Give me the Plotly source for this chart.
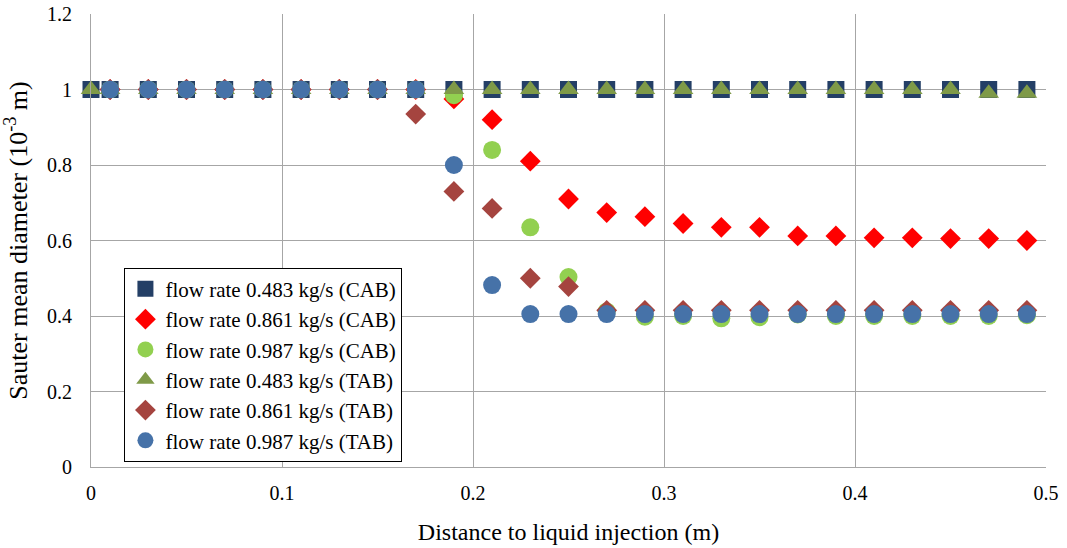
import plotly.graph_objects as go

x = [0, 0.01, 0.03, 0.05, 0.07, 0.09, 0.11, 0.13, 0.15, 0.17, 0.19, 0.21, 0.23,
     0.25, 0.27, 0.29, 0.31, 0.33, 0.35, 0.37, 0.39, 0.41, 0.43, 0.45, 0.47, 0.49]

cab_0483 = [1.0] * 26
cab_0861 = [None, 1.0, 1.0, 1.0, 1.0, 1.0, 1.0, 1.0, 1.0, 1.0, 0.975, 0.92, 0.81,
            0.71, 0.674, 0.663, 0.645, 0.635, 0.635, 0.612, 0.612, 0.607, 0.607, 0.605, 0.605, 0.6]
cab_0987 = [None, 1.0, 1.0, 1.0, 1.0, 1.0, 1.0, 1.0, 1.0, 1.0, 0.985, 0.84, 0.635,
            0.503, 0.412, 0.398, 0.4, 0.394, 0.397, 0.404, 0.4, 0.4, 0.4, 0.4, 0.4, 0.402]
tab_0483 = [1.0] * 24 + [0.99, 0.99]
tab_0861 = [None, 1.0, 1.0, 1.0, 1.0, 1.0, 1.0, 1.0, 1.0, 0.935, 0.73, 0.685, 0.5,
            0.478, 0.415, 0.415, 0.415, 0.415, 0.415, 0.415, 0.415, 0.415, 0.415, 0.415, 0.415, 0.415]
tab_0987 = [None, 1.0, 1.0, 1.0, 1.0, 1.0, 1.0, 1.0, 1.0, 1.0, 0.8, 0.482, 0.405,
            0.405, 0.405, 0.405, 0.405, 0.405, 0.405, 0.405, 0.405, 0.405, 0.405, 0.405, 0.405, 0.405]

x_ticks = [0, 0.1, 0.2, 0.3, 0.4, 0.5]
x_tick_labels = ["0", "0.1", "0.2", "0.3", "0.4", "0.5"]
y_ticks = [0, 0.2, 0.4, 0.6, 0.8, 1.0, 1.2]
y_tick_labels = ["0", "0.2", "0.4", "0.6", "0.8", "1", "1.2"]

series = [
    ("flow rate 0.483 kg/s (CAB)", cab_0483, "square", "#243F66", 17),
    ("flow rate 0.861 kg/s (CAB)", cab_0861, "diamond", "#FF0000", 16),
    ("flow rate 0.987 kg/s (CAB)", cab_0987, "circle", "#92D050", 18),
    ("flow rate 0.483 kg/s (TAB)", tab_0483, "triangle-up", "#7F9A48", 18),
    ("flow rate 0.861 kg/s (TAB)", tab_0861, "diamond", "#A5443F", 16),
    ("flow rate 0.987 kg/s (TAB)", tab_0987, "circle", "#4672A8", 18),
]

fig = go.Figure()
for name, ys, sym, col, sz in series:
    fig.add_trace(go.Scatter(
        x=x, y=ys, mode="markers", name=name, cliponaxis=False,
        marker=dict(symbol=sym, color=col, size=sz, line=dict(width=0)),
    ))

font = "Liberation Serif, Times New Roman, serif"
fig.update_layout(
    width=1067, height=548,
    margin=dict(l=91, r=21, t=14, b=81, autoexpand=False),
    paper_bgcolor="white", plot_bgcolor="white",
    font=dict(family=font, size=20, color="black"),
    showlegend=True,
    legend=dict(
        x=0.035, y=0.44, xanchor="left", yanchor="top",
        bordercolor="black", borderwidth=1, bgcolor="white",
        font=dict(family=font, size=21, color="black"),
        itemwidth=30, tracegroupgap=0,
    ),
    xaxis=dict(
        range=[0, 0.5], tickmode="array", tickvals=x_ticks, ticktext=x_tick_labels,
        showgrid=True, gridcolor="#A6A6A6", gridwidth=1,
        showline=True, linecolor="#A6A6A6", linewidth=1,
        zeroline=False, ticks="", automargin=False, ticklabelstandoff=8,
        ticklabeloverflow="allow",
        tickfont=dict(family=font, size=20),
        title=dict(text="Distance to liquid injection (m)", font=dict(family=font, size=24), standoff=20),
    ),
    yaxis=dict(
        range=[0, 1.2], tickmode="array", tickvals=y_ticks, ticktext=y_tick_labels,
        showgrid=True, gridcolor="#A6A6A6", gridwidth=1,
        showline=True, linecolor="#A6A6A6", linewidth=1,
        zeroline=False, ticks="", automargin=False, ticklabelstandoff=14,
        ticklabeloverflow="allow",
        tickfont=dict(family=font, size=20),
        title=dict(text="Sauter mean diameter (10<sup>-3</sup> m)", font=dict(family=font, size=26), standoff=16),
    ),
)
fig.write_html("out.html", config={"displayModeBar": False},
               post_script="document.body.style.margin='0';")
